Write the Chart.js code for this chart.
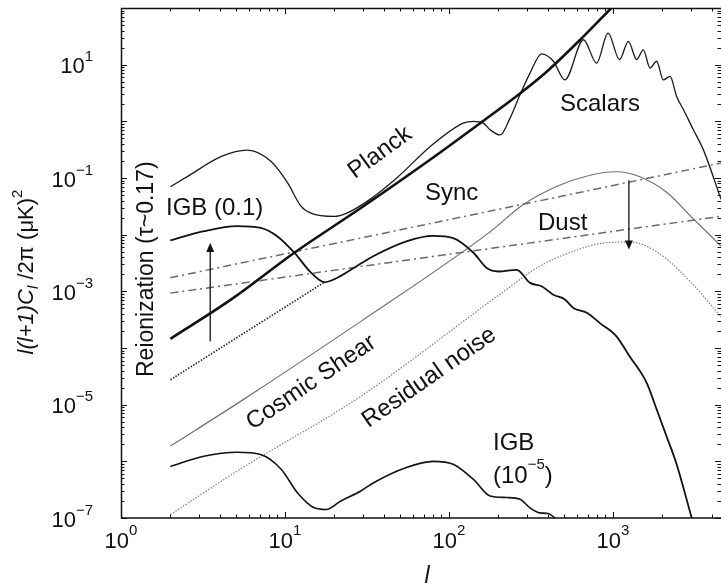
<!DOCTYPE html>
<html lang="en">
<head>
<meta charset="UTF-8">
<title>Polarization power spectra</title>
<script src="https://cdn.jsdelivr.net/npm/chart.js"></script>
<style>
  html, body { margin: 0; padding: 0; background: #fff; overflow: hidden; }
  canvas { display: block; }
</style>
</head>
<body>
<canvas id="spectra" width="721" height="585"></canvas>
<script>
// multipole l and l(l+1)C_l/2pi in (uK)^2
const scalarsL = [2, 2.55, 4.1, 5.9, 8.2, 10.4, 12.5, 14.4, 20, 23.8, 33, 48, 77, 122, 141, 162, 178, 205, 236, 271, 312, 367, 433, 509, 661, 794, 933, 1096, 1242, 1393, 1531, 1683, 1845, 2028, 2228, 2443, 2692, 3090, 3548, 4560];
const scalarsC = [0.070, 0.107, 0.24, 0.31, 0.197, 0.081, 0.032, 0.024, 0.021, 0.024, 0.042, 0.10, 0.36, 0.93, 1.0, 0.93, 0.71, 0.575, 1.15, 2.95, 7.1, 15.5, 11.5, 5.4, 27.5, 10.7, 36, 12.3, 25.7, 12.3, 18.2, 8.7, 11.5, 5.4, 6.2, 2.75, 1.6, 0.71, 0.32, 0.042];

const planckL = [2, 4.7, 11.4, 29, 76.6, 155, 271, 394, 631, 977];
const planckC = [1.45e-4, 7.2e-4, 4.8e-3, 0.0295, 0.21, 0.93, 3.1, 7.5, 27.5, 100];

// IGB, T/S = 0.1, with reionization
const igbL = [2, 3.2, 5.1, 7.1, 9.0, 11.4, 14.4, 17.4, 20.9, 29, 34.7, 55, 80, 106, 141, 170, 200, 259, 312, 367, 433, 509, 573, 692, 832, 1047, 1259, 1603, 1845, 2123, 2443, 3020];
const igbC = [0.0079, 0.0115, 0.0141, 0.0132, 0.0093, 0.0048, 0.00214, 0.00145, 0.00174, 0.0031, 0.0042, 0.0076, 0.0095, 0.0087, 0.0048, 0.00257, 0.00224, 0.0024, 0.00141, 0.00123, 8.7e-4, 7.2e-4, 5.1e-4, 4.2e-4, 2.75e-4, 1.62e-4, 7.2e-5, 2.45e-5, 8.3e-6, 2.75e-6, 8.9e-7, 1.0e-7];
// same without reionization (dotted, low l only)
const igbNoReionL = [2, 17.4];
const igbNoReionC = [2.75e-5, 1.45e-3];

// IGB, T/S = 1e-5
const igbLowL = [2, 3.2, 5.1, 7.1, 9.5, 11.9, 15.1, 17.8, 21.9, 29, 34.7, 55, 80, 106, 141, 178, 225, 271, 312, 359, 403, 443];
const igbLowC = [8.1e-7, 1.23e-6, 1.45e-6, 1.32e-6, 7.2e-7, 2.8e-7, 1.51e-7, 1.41e-7, 2.0e-7, 3.0e-7, 4.2e-7, 7.8e-7, 1.0e-6, 8.9e-7, 4.8e-7, 2.45e-7, 2.3e-7, 2.14e-7, 1.51e-7, 1.23e-7, 1.2e-7, 1.0e-7];

const shearL = [2, 5.3, 29, 178, 284, 453, 724, 1047, 1459, 2123, 3090, 4560];
const shearC = [1.86e-6, 1.12e-5, 2.95e-4, 0.0112, 0.034, 0.071, 0.112, 0.129, 0.105, 0.056, 0.019, 0.0063];

const noiseL = [2, 5.3, 29, 205, 359, 573, 870, 1259, 1845, 3020, 4560];
const noiseC = [1.15e-7, 7.2e-7, 1.41e-5, 8.9e-4, 0.0028, 0.0051, 0.0071, 0.0074, 0.005, 0.0014, 3.5e-4];

const syncL = [2, 4560];
const syncC = [0.00174, 0.184];
const dustL = [2, 4560];
const dustC = [9.3e-4, 0.0211];

// arrows: reionization boost and foreground removal
const arrowL = [3.5, 1250];
const arrowFrom = [1.32e-4, 0.091];
const arrowTo = [0.0071, 0.0055];

// tick labels
const xTicks = [1, 10, 100, 1000];
const xTickExp = ['0', '1', '2', '3'];
const yTicks = [10, 0.1, 1e-3, 1e-5, 1e-7];
const yTickExp = ['1', '\u22121', '\u22123', '\u22125', '\u22127'];

const FONT = '"Liberation Sans", Arial, Helvetica, sans-serif';

function pts(L, C) {
  return L.map((l, i) => ({ x: l, y: C[i] }));
}

function series(L, C, color, width, dash, smooth) {
  return {
    data: pts(L, C),
    borderColor: color,
    borderWidth: width,
    borderDash: dash || [],
    pointRadius: 0,
    fill: false,
    cubicInterpolationMode: smooth ? 'monotone' : 'default',
    tension: 0
  };
}

// draw a row of text pieces: [text, font, dy]
function runs(ctx, parts, x, y, align) {
  let w = 0;
  parts.forEach(p => { ctx.font = p[1]; w += ctx.measureText(p[0]).width; });
  let cx = align === 'center' ? x - w / 2 : (align === 'right' ? x - w : x);
  ctx.textAlign = 'left';
  parts.forEach(p => {
    ctx.font = p[1];
    ctx.fillText(p[0], cx, y + (p[2] || 0));
    cx += ctx.measureText(p[0]).width;
  });
}

function rotText(ctx, text, x, y, deg, font, align) {
  ctx.save();
  ctx.translate(x, y);
  ctx.rotate(deg * Math.PI / 180);
  ctx.font = font;
  ctx.textAlign = align;
  ctx.fillText(text, 0, 0);
  ctx.restore();
}

const frame = {
  id: 'frame',
  afterDatasetsDraw(chart) {
    const { ctx, chartArea: a, scales: { x, y } } = chart;
    ctx.save();
    ctx.strokeStyle = '#111';
    ctx.fillStyle = '#111';

    // box
    ctx.lineWidth = 1.5;
    ctx.beginPath();
    ctx.moveTo(a.right + 4, a.top + 0.5);
    ctx.lineTo(a.left + 0.5, a.top + 0.5);
    ctx.lineTo(a.left + 0.5, a.bottom);
    ctx.lineTo(a.right + 4, a.bottom);
    ctx.stroke();

    // inward ticks on all sides
    ctx.lineWidth = 1;
    ctx.beginPath();
    for (let e = 0; e <= 4; e++) {
      for (let m = 1; m <= 9; m++) {
        const v = m * Math.pow(10, e);
        if (v > x.max) break;
        const px = Math.round(x.getPixelForValue(v)) + 0.5;
        const len = m === 1 ? 6 : 3.5;
        ctx.moveTo(px, a.bottom); ctx.lineTo(px, a.bottom - len);
        ctx.moveTo(px, a.top); ctx.lineTo(px, a.top + len);
      }
    }
    for (let e = -7; e <= 1; e++) {
      for (let m = 1; m <= 9; m++) {
        const v = m * Math.pow(10, e);
        const py = Math.round(y.getPixelForValue(v)) + 0.5;
        const len = m === 1 ? 6 : 3.5;
        ctx.moveTo(a.left, py); ctx.lineTo(a.left + len, py);
        ctx.moveTo(a.right, py); ctx.lineTo(a.right - len, py);
      }
    }
    ctx.stroke();

    // tick labels
    ctx.textBaseline = 'alphabetic';
    xTicks.forEach((v, i) => {
      runs(ctx, [['10', `22px ${FONT}`], [xTickExp[i], `15px ${FONT}`, -13]],
        x.getPixelForValue(v), 548, 'center');
    });
    yTicks.forEach((v, i) => {
      runs(ctx, [['10', `22px ${FONT}`], [yTickExp[i], `15px ${FONT}`, -12]],
        93, y.getPixelForValue(v) + 8.5, 'right');
    });

    // axis titles
    runs(ctx, [['l', `italic 23px ${FONT}`]], 427, 583, 'center');
    ctx.save();
    ctx.translate(33, 272);
    ctx.rotate(-Math.PI / 2);
    runs(ctx, [
      ['l(l+1)C', `italic 22px ${FONT}`],
      ['l', `italic 15px ${FONT}`, 5],
      [' /2\u03c0 (\u03bcK)', `22px ${FONT}`],
      ['2', `15px ${FONT}`, -11]
    ], 0, 0, 'center');
    ctx.restore();

    // arrows
    ctx.lineWidth = 1.3;
    arrowL.forEach((l, i) => {
      const px = x.getPixelForValue(l);
      const y0 = y.getPixelForValue(arrowFrom[i]);
      const y1 = y.getPixelForValue(arrowTo[i]);
      const dir = y1 < y0 ? -1 : 1;
      ctx.beginPath();
      ctx.moveTo(px, y0);
      ctx.lineTo(px, y1 - dir * 8);
      ctx.stroke();
      ctx.beginPath();
      ctx.moveTo(px, y1);
      ctx.lineTo(px - 4, y1 - dir * 9);
      ctx.lineTo(px + 4, y1 - dir * 9);
      ctx.closePath();
      ctx.fill();
    });

    // curve labels
    const big = `24px ${FONT}`;
    ctx.textAlign = 'left';
    ctx.font = big;
    ctx.fillText('Scalars', 560, 111);
    ctx.fillText('Sync', 425, 200);
    ctx.fillText('Dust', 538, 230);
    ctx.fillText('IGB (0.1)', 166, 215);
    ctx.fillText('IGB', 493, 450);
    runs(ctx, [['(10', big], ['\u22125', `15px ${FONT}`, -14], [')', big]], 493, 483, 'left');
    rotText(ctx, 'Planck', 384, 158, -36, big, 'center');
    rotText(ctx, 'Cosmic Shear', 315, 388, -34, big, 'center');
    rotText(ctx, 'Residual noise', 433, 383, -35, big, 'center');
    rotText(ctx, 'Reionization (\u03c4~0.17)', 153, 377, -90, `23px ${FONT}`, 'left');

    ctx.restore();
  }
};

new Chart(document.getElementById('spectra'), {
  type: 'line',
  data: {
    datasets: [
      series(planckL, planckC, '#111', 2.6, null, true),
      series(scalarsL, scalarsC, '#1a1a1a', 1.3, null, true),
      series(igbL, igbC, '#111', 1.8, null, true),
      series(igbNoReionL, igbNoReionC, '#222', 1.6, [1.5, 1.5], false),
      series(igbLowL, igbLowC, '#111', 1.6, null, true),
      series(shearL, shearC, '#707070', 1.2, null, true),
      series(noiseL, noiseC, '#808080', 1.2, [1.5, 1.5], true),
      series(syncL, syncC, '#6a6a6a', 1.5, [8, 4, 2, 4], false),
      series(dustL, dustC, '#6a6a6a', 1.5, [8, 4, 2, 4], false)
    ]
  },
  options: {
    responsive: false,
    animation: false,
    devicePixelRatio: 1,
    events: [],
    layout: { padding: { top: 8, right: 0, left: 0, bottom: 0 } },
    plugins: { legend: { display: false }, tooltip: { enabled: false } },
    scales: {
      x: {
        type: 'logarithmic',
        min: 1,
        max: 4556,
        grid: { display: false },
        border: { display: false },
        ticks: { display: false },
        afterFit(scale) { scale.height = 67; }
      },
      y: {
        type: 'logarithmic',
        min: 1e-7,
        max: 100,
        grid: { display: false },
        border: { display: false },
        ticks: { display: false },
        afterFit(scale) { scale.width = 121; }
      }
    }
  },
  plugins: [frame]
});
</script>
</body>
</html>
